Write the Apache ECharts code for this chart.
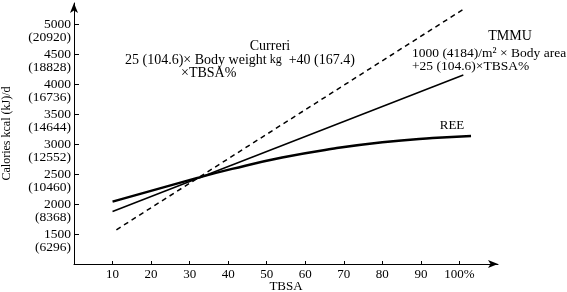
<!DOCTYPE html>
<html>
<head>
<meta charset="utf-8">
<script src="https://cdn.jsdelivr.net/npm/echarts@6/dist/echarts.min.js"></script>
<style>
  html, body { margin: 0; padding: 0; background: #fff; }
  #chart { width: 567px; height: 292px; }
</style>
</head>
<body>
<div id="chart"></div>
<script>
// axis ticks
var xTicks = [10, 20, 30, 40, 50, 60, 70, 80, 90, 100];
var yTicks = [1500, 2000, 2500, 3000, 3500, 4000, 4500, 5000];
var kjLabels = ['(6296)', '(8368)', '(10460)', '(12552)', '(14644)', '(16736)', '(18828)', '(20920)'];

// REE curve
var reeX = [10, 32, 41, 54, 67, 80, 93, 103];
var reeY = [2040, 2435, 2585, 2775, 2920, 3030, 3100, 3135];
// TMMU line
var tmmuX = [10, 101];
var tmmuY = [1875, 4150];
// Curreri line
var curreriX = [11, 101];
var curreriY = [1570, 5245];

function pairs(xs, ys) {
  var out = [];
  for (var i = 0; i < xs.length; i++) out.push([xs[i], ys[i]]);
  return out;
}

var serif = '"Liberation Serif", "DejaVu Serif", serif';

var chart = echarts.init(document.getElementById('chart'));
var option = {
  backgroundColor: '#fff',
  animation: false,
  textStyle: { fontFamily: serif, color: '#000' },
  grid: { left: 74, top: 3, width: 424, height: 261, outerBoundsMode: 'none', containLabel: false },
  xAxis: {
    type: 'value',
    min: 0,
    max: 110,
    name: 'TBSA',
    nameLocation: 'middle',
    nameGap: 16,
    nameMoveOverlap: false,
    nameTextStyle: { fontFamily: serif, fontSize: 13, color: '#000', verticalAlign: 'top' },
    splitLine: { show: false },
    axisLine: { lineStyle: { color: '#000', width: 1 }, symbol: ['none', 'arrow'], symbolSize: [6, 10] },
    axisTick: { inside: true, length: 3, customValues: xTicks, lineStyle: { color: '#000' } },
    axisLabel: {
      customValues: xTicks,
      margin: 4,
      fontFamily: serif, fontSize: 13, color: '#000',
      formatter: function (v) { return v === 100 ? '100%' : String(v); }
    }
  },
  yAxis: {
    type: 'value',
    min: 1000,
    max: 5350,
    name: 'Calories kcal (kJ)/d',
    nameLocation: 'middle',
    nameGap: 61,
    nameMoveOverlap: false,
    nameTextStyle: { fontFamily: serif, fontSize: 12, color: '#000' },
    splitLine: { show: false },
    axisLine: { lineStyle: { color: '#000', width: 1 }, symbol: ['none', 'arrow'], symbolSize: [6, 10] },
    axisTick: { inside: true, length: 5, customValues: yTicks, lineStyle: { color: '#000' } },
    axisLabel: {
      customValues: yTicks,
      margin: 3,
      padding: [13, 0, 0, 0],
      formatter: function (v) {
        var i = yTicks.indexOf(v);
        return '{a|' + v + '}\n{a|' + kjLabels[i] + '}';
      },
      rich: { a: { fontFamily: serif, fontSize: 13.5, lineHeight: 13, color: '#000', align: 'right' } }
    }
  },
  series: [
    {
      name: 'REE', type: 'line', smooth: true, showSymbol: false,
      lineStyle: { color: '#000', width: 2.5 },
      data: pairs(reeX, reeY)
    },
    {
      name: 'TMMU', type: 'line', showSymbol: false,
      lineStyle: { color: '#000', width: 1.5 },
      data: pairs(tmmuX, tmmuY)
    },
    {
      name: 'Curreri', type: 'line', showSymbol: false,
      lineStyle: { color: '#000', width: 1.5, type: [5, 4] },
      data: pairs(curreriX, curreriY)
    }
  ],
  graphic: [
    { type: 'text', x: 270, y: 46, style: { text: 'Curreri', font: '14px ' + serif, fill: '#000', align: 'center', verticalAlign: 'middle' } },
    { type: 'text', x: 125, y: 60, style: {
        text: '{n|25 (104.6)× Body weight}{s| kg}{n|  +40 (167.4)}',
        rich: { n: { font: '14px ' + serif, fill: '#000' }, s: { font: '12px ' + serif, fill: '#000' } },
        verticalAlign: 'middle' } },
    { type: 'text', x: 181, y: 73, style: { text: '×TBSA%', font: '14px ' + serif, fill: '#000', verticalAlign: 'middle' } },
    { type: 'text', x: 510, y: 36, style: { text: 'TMMU', font: '14px ' + serif, fill: '#000', align: 'center', verticalAlign: 'middle' } },
    { type: 'text', x: 412, y: 53, style: { text: '1000 (4184)/m² × Body area', font: '13.5px ' + serif, fill: '#000', verticalAlign: 'middle' } },
    { type: 'text', x: 412, y: 66, style: { text: '+25 (104.6)×TBSA%', font: '13.5px ' + serif, fill: '#000', verticalAlign: 'middle' } },
    { type: 'text', x: 452, y: 126, style: { text: 'REE', font: '13px ' + serif, fill: '#000', align: 'center', verticalAlign: 'middle' } }
  ]
};
chart.setOption(option);
</script>
</body>
</html>
